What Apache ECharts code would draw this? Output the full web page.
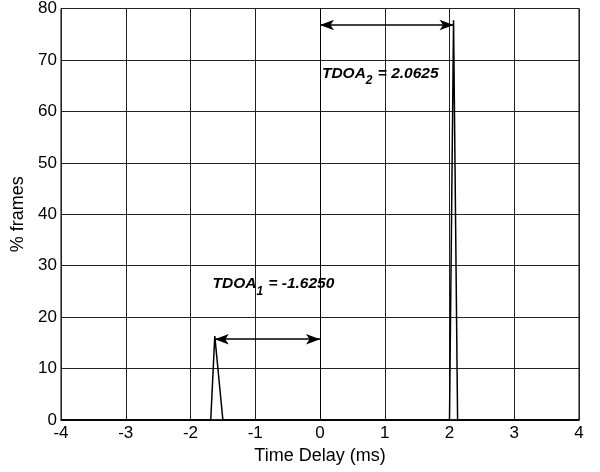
<!DOCTYPE html>
<html lang="en">
<head>
<meta charset="utf-8">
<script src="https://cdn.jsdelivr.net/npm/echarts@6/dist/echarts.min.js"></script>
<style>
	html, body { margin: 0; padding: 0; background: #fff; }
	#chart { width: 600px; height: 472px; }
</style>
</head>
<body>
<div id="chart"></div>
<script>
	// time delay (ms) and % frames
	var delays = [-4, -1.6875, -1.625, -1.5, 2.0, 2.0625, 2.125, 4];
	var frames = [0, 0, 16.3, 0, 0, 77.7, 0, 0];

	var tdoa1 = -1.6250, tdoa2 = 2.0625;
	var arrow1Y = 15.7, arrow2Y = 76.8;

	var font = 'Liberation Sans, Arial, Helvetica, sans-serif';
	var chart = echarts.init(document.getElementById('chart'));

	var points = delays.map(function (d, i) { return [d, frames[i]]; });

	function tdoaLabel(n, v) {
		return '{b|TDOA}{s|' + n + '}{b| = ' + v.toFixed(4) + '}';
	}
	var rich = {
		b: { fontFamily: font, fontSize: 15.5, fontWeight: 'bold', fontStyle: 'italic', color: '#000' },
		s: { fontFamily: font, fontSize: 12, fontWeight: 'bold', fontStyle: 'italic', color: '#000', padding: [14, 1, 0, 0] }
	};

	chart.setOption({
		animation: false,
		grid: { left: 61, right: 21, top: 8, bottom: 52, show: true, borderColor: '#000', borderWidth: 1 },
		xAxis: {
			type: 'value', min: -4, max: 4, interval: 1,
			name: 'Time Delay (ms)', nameLocation: 'middle', nameGap: 25,
			nameTextStyle: { fontFamily: font, fontSize: 18, color: '#000' },
			axisLine: { lineStyle: { color: '#000', width: 1.5 } },
			axisTick: { show: false },
			axisLabel: { fontFamily: font, fontSize: 17, color: '#000', margin: 5 },
			splitLine: { lineStyle: { color: '#222', width: 1 } }
		},
		yAxis: {
			type: 'value', min: 0, max: 80, interval: 10,
			name: '% frames', nameLocation: 'middle', nameGap: 33,
			nameTextStyle: { fontFamily: font, fontSize: 18, color: '#000' },
			axisLine: { show: true, lineStyle: { color: '#000', width: 1 } },
			axisTick: { show: false },
			axisLabel: { fontFamily: font, fontSize: 17, color: '#000', margin: 4 },
			splitLine: { lineStyle: { color: '#222', width: 1 } }
		},
		series: [{
			type: 'line',
			data: points,
			symbol: 'none',
			lineStyle: { color: '#000', width: 1.5 },
			markLine: {
				silent: true,
				symbol: ['arrow', 'arrow'],
				symbolSize: [8, 14],
				label: { show: false },
				lineStyle: { color: '#000', width: 1.5, type: 'solid' },
				data: [
					[{ coord: [tdoa1, arrow1Y] }, { coord: [0, arrow1Y] }],
					[{ coord: [0, arrow2Y] }, { coord: [tdoa2, arrow2Y] }]
				]
			},
			markPoint: {
				silent: true,
				symbol: 'circle', symbolSize: 0,
				data: [
					{ coord: [-1.66, 26.4], label: { show: true, position: 'right', distance: 0, formatter: tdoaLabel(1, tdoa1), rich: rich } },
					{ coord: [0.03, 67.4], label: { show: true, position: 'right', distance: 0, formatter: tdoaLabel(2, tdoa2), rich: rich } }
				]
			}
		}]
	});
</script>
</body>
</html>
